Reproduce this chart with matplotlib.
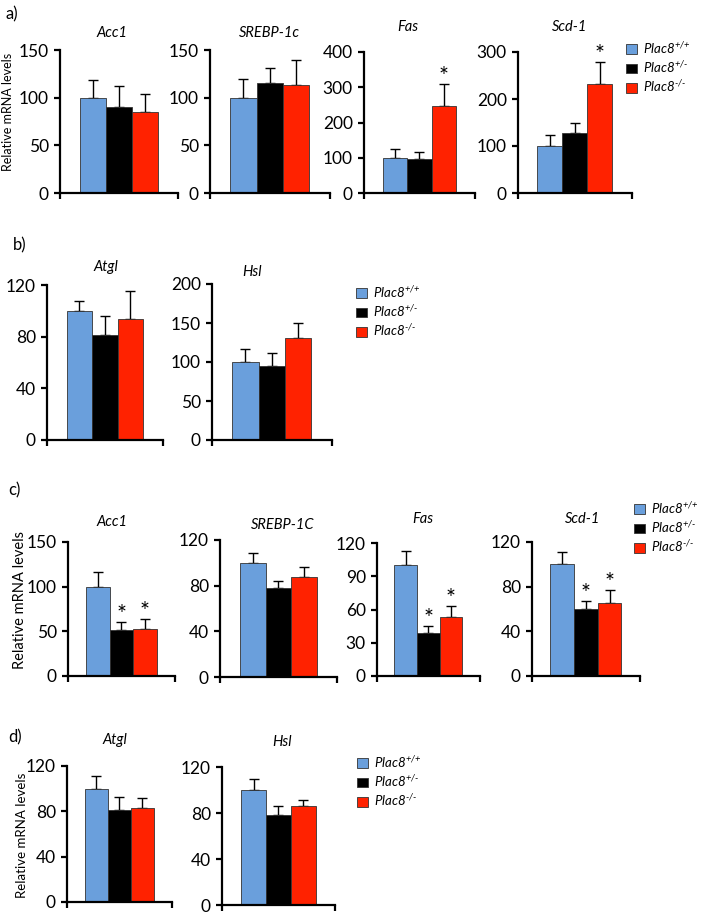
import numpy as np
import matplotlib
matplotlib.use("Agg")
import matplotlib.pyplot as plt
from matplotlib.patches import Patch

plt.rcParams['font.family'] = ['Lato', 'DejaVu Sans']
plt.rcParams['mathtext.fontset'] = 'custom'
plt.rcParams['mathtext.it'] = 'Lato:italic'
plt.rcParams['mathtext.rm'] = 'Lato:italic'
plt.rcParams['mathtext.sf'] = 'Lato:italic'

W, H = 701, 916

# genotype groups
groups = [r'$\mathit{Plac8}^{\text{+/+}}$', r'$\mathit{Plac8}^{\text{+/-}}$', r'$\mathit{Plac8}^{\text{-/-}}$']
colors = ['#6A9FDC', '#000000', '#FF2200']

# panel a
a_genes = ["Acc1", "SREBP-1c", "Fas", "Scd-1"]
a_means = [[100, 90, 85], [100, 115, 113], [100, 97, 248], [100, 128, 231]]
a_upper = [[119, 112, 104], [120, 131, 139], [125, 117, 309], [123, 149, 279]]
a_ymax = [150, 150, 400, 300]
a_step = [50, 50, 100, 100]
a_stars = [[], [], [2], [2]]

# panel b
b_genes = ["Atgl", "Hsl"]
b_means = [[100, 81, 94], [100, 95, 131]]
b_upper = [[108, 96, 115], [117, 112, 150]]
b_ymax = [120, 200]
b_step = [40, 50]
b_stars = [[], []]

# panel c
c_genes = ["Acc1", "SREBP-1C", "Fas", "Scd-1"]
c_means = [[100, 51, 53], [100, 78, 88], [100, 39, 53], [100, 60, 65]]
c_upper = [[116, 60, 64], [109, 84, 96], [113, 45, 63], [111, 67, 77]]
c_ymax = [150, 120, 120, 120]
c_step = [50, 40, 30, 40]
c_stars = [[1, 2], [], [1, 2], [1, 2]]

# panel d
d_genes = ["Atgl", "Hsl"]
d_means = [[100, 81, 83], [100, 78, 86]]
d_upper = [[111, 93, 92], [110, 86, 91]]
d_ymax = [120, 120]
d_step = [40, 40]
d_stars = [[], []]

fig = plt.figure(figsize=(W / 100, H / 100), dpi=100)


def rect(x0, x1, ytop, ybot):
    return [x0 / W, 1 - ybot / H, (x1 - x0) / W, (ybot - ytop) / H]


def ftext(x, y, s, **kw):
    fig.text(x / W, 1 - y / H, s, **kw)


def draw_panel(genes, means, upper, ymax, step, stars, boxes, titles):
    for i, g in enumerate(genes):
        ax = fig.add_axes(rect(*boxes[i]))
        x = np.arange(3)
        m = np.array(means[i])
        e = np.array(upper[i]) - m
        ax.bar(x, m, width=1.0, color=colors, edgecolor='#333333', linewidth=0.6, zorder=2)
        ax.errorbar(x, m, yerr=[np.zeros(3), e], fmt='none', ecolor='black',
                    elinewidth=1.0, capsize=3.5, capthick=1.0, zorder=1)
        for k in stars[i]:
            ax.annotate('*', (x[k], upper[i][k]), xytext=(0, -2), textcoords='offset points',
                        ha='center', va='bottom', fontsize=17)
        lo, hi = -1.27, 3.28
        ax.set_xlim(lo, hi)
        ax.set_ylim(0, ymax[i])
        ax.set_yticks(np.arange(0, ymax[i] + 1, step[i]))
        ax.set_xticks([lo, hi])
        ax.set_xticklabels([])
        for s in ['top', 'right']:
            ax.spines[s].set_visible(False)
        for s in ['left', 'bottom']:
            ax.spines[s].set_linewidth(1.6)
        ax.tick_params(direction='out', length=4, width=1.6, labelsize=12.5, pad=4)
        tx, ty = titles[i]
        ftext(tx, ty, g, ha='center', va='center', fontsize=10.5, style='italic')


def legend(x, y, size=9.5):
    handles = [Patch(facecolor=c, edgecolor='#333333', linewidth=0.6) for c in colors]
    fig.legend(handles, groups, loc='upper left', bbox_to_anchor=(x / W, 1 - y / H),
               frameon=False, fontsize=size, handlelength=0.8, handleheight=0.75,
               handletextpad=0.5, labelspacing=0.25, borderpad=0, borderaxespad=0)


draw_panel(a_genes, a_means, a_upper, a_ymax, a_step, a_stars,
           [(60, 178, 50, 193), (210, 330, 50, 193), (364, 475, 52, 193), (518, 632, 52, 193)],
           [(112, 33), (269, 33), (408, 27), (570, 27)])
draw_panel(b_genes, b_means, b_upper, b_ymax, b_step, b_stars,
           [(47, 163, 285, 440), (212, 332, 284, 440)],
           [(106, 267), (252, 272)])
draw_panel(c_genes, c_means, c_upper, c_ymax, c_step, c_stars,
           [(68, 175, 542, 676), (220, 337, 540, 677), (377, 480, 543, 676), (532, 640, 542, 676)],
           [(112, 522), (283, 525), (423, 519), (583, 519)])
draw_panel(d_genes, d_means, d_upper, d_ymax, d_step, d_stars,
           [(67, 172, 766, 902), (222, 335, 767, 905)],
           [(115, 740), (282, 742)])

legend(626, 40)
legend(356, 284)
legend(634, 500)
legend(357, 754)

ftext(12, 14, "a)", ha='center', va='center', fontsize=12)
ftext(20, 245, "b)", ha='center', va='center', fontsize=12)
ftext(14, 490, "c)", ha='center', va='center', fontsize=12)
ftext(15, 737, "d)", ha='center', va='center', fontsize=12)

ftext(8, 112, "Relative mRNA levels", rotation=90, ha='center', va='center', fontsize=9)
ftext(20, 600, "Relative mRNA levels", rotation=90, ha='center', va='center', fontsize=10.5)
ftext(22, 835, "Relative mRNA levels", rotation=90, ha='center', va='center', fontsize=9.5)

fig.savefig("out.png", dpi=100)
